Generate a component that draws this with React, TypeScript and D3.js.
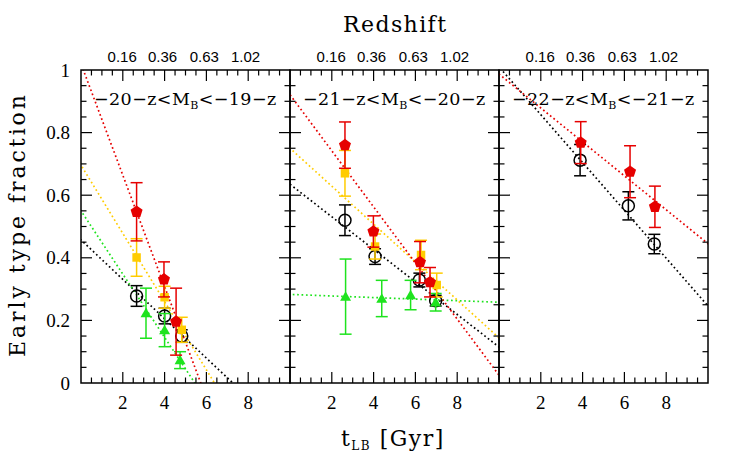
import React, { useEffect, useRef } from 'react';
import * as d3 from 'd3';

// redshift labels on the top axis and the lookback time they sit at
const zTickLabels = ['0.16', '0.36', '0.63', '1.02'];
const zTickT = [1.97, 3.9, 5.9, 7.87];
const tTickLabels = [2, 4, 6, 8];

const panelLabels = [
  ['−20−z<M', 'B', '<−19−z'],
  ['−21−z<M', 'B', '<−20−z'],
  ['−22−z<M', 'B', '<−21−z'],
];

// points are [t_LB (Gyr), early type fraction, error]
const p1All = [[2.66, 0.278, 0.033], [4.0, 0.214, 0.025], [4.82, 0.15, 0.02]];
const p1Green = [[3.11, 0.223, 0.08], [4.0, 0.169, 0.053], [4.74, 0.073, 0.027]];
const p1Yellow = [[2.66, 0.401, 0.06], [4.0, 0.274, 0.035], [4.82, 0.17, 0.04]];
const p1Red = [[2.66, 0.547, 0.093], [3.97, 0.331, 0.056], [4.55, 0.196, 0.107]];

const p2All = [[2.63, 0.52, 0.049], [4.07, 0.404, 0.025], [6.19, 0.329, 0.022], [6.97, 0.263, 0.017]];
const p2Green = [[2.66, 0.276, 0.12], [4.39, 0.27, 0.058], [5.77, 0.281, 0.047], [6.97, 0.258, 0.028]];
const p2Yellow = [[2.63, 0.67, 0.073], [4.07, 0.436, 0.04], [6.27, 0.409, 0.047], [7.02, 0.313, 0.038]];
const p2Red = [[2.63, 0.76, 0.074], [3.99, 0.484, 0.05], [6.22, 0.386, 0.066], [6.7, 0.322, 0.047]];

const p3All = [[3.88, 0.712, 0.05], [6.19, 0.566, 0.045], [7.43, 0.444, 0.031]];
const p3Red = [[3.91, 0.768, 0.067], [6.27, 0.675, 0.083], [7.46, 0.563, 0.066]];

// linear fits, [intercept, slope]
const p1Fits = { all: [0.457, -0.0629], green: [0.55, -0.101], yellow: [0.696, -0.109], red: [1.02, -0.178] };
const p2Fits = { all: [0.635, -0.052], green: [0.283, -0.0025], yellow: [0.75, -0.0606], red: [0.921, -0.0896] };
const p3Fits = { all: [1.01, -0.0764], red: [0.987, -0.0542] };

const colors = { all: '#000000', green: '#1ee31e', yellow: '#ffcc00', red: '#e60000' };

const panels = [
  { series: { all: p1All, green: p1Green, yellow: p1Yellow, red: p1Red }, fits: p1Fits },
  { series: { all: p2All, green: p2Green, yellow: p2Yellow, red: p2Red }, fits: p2Fits },
  { series: { all: p3All, red: p3Red }, fits: p3Fits },
];

const pentagon = {
  draw(ctx, size) {
    const r = Math.sqrt(size / 2.378);
    for (let i = 0; i < 5; i++) {
      const a = -Math.PI / 2 + (i * 2 * Math.PI) / 5;
      if (i === 0) ctx.moveTo(r * Math.cos(a), r * Math.sin(a));
      else ctx.lineTo(r * Math.cos(a), r * Math.sin(a));
    }
    ctx.closePath();
  },
};

const App = () => {
  const svgRef = useRef(null);

  useEffect(() => {
    const W = 747, H = 464;
    const left = 81, top = 70, panelW = 209, bottom = 383;
    const serif = '"DejaVu Serif", serif';

    d3.select(svgRef.current).selectAll('*').remove();
    const svg = d3.select(svgRef.current).attr('width', W).attr('height', H);

    const y = d3.scaleLinear().domain([0, 1]).range([bottom, top]);

    panels.forEach((panel, pi) => {
      const x0 = left + pi * panelW;
      const x = d3.scaleLinear().domain([0, 10]).range([x0, x0 + panelW]);
      const g = svg.append('g');

      svg.append('clipPath').attr('id', `clip-${pi}`)
        .append('rect').attr('x', x0).attr('y', top).attr('width', panelW).attr('height', bottom - top);

      // dotted fits
      const lines = g.append('g').attr('clip-path', `url(#clip-${pi})`);
      Object.entries(panel.fits).forEach(([key, [a, b]]) => {
        const line = d3.line().x(d => x(d)).y(d => y(a + b * d));
        lines.append('path')
          .attr('d', line([-0.5, 10.5]))
          .attr('fill', 'none')
          .attr('stroke', colors[key])
          .attr('stroke-width', 1.7)
          .attr('stroke-dasharray', '1.7 2.7');
      });

      // points with error bars
      const order = ['all', 'green', 'yellow', 'red'];
      order.forEach(key => {
        const pts = panel.series[key];
        if (!pts) return;
        const c = colors[key];
        const sg = g.append('g');
        pts.forEach(([t, f, e]) => {
          const cx = x(t);
          sg.append('line').attr('x1', cx).attr('x2', cx).attr('y1', y(f - e)).attr('y2', y(f + e))
            .attr('stroke', c).attr('stroke-width', 1.5);
          [f - e, f + e].forEach(v => {
            sg.append('line').attr('x1', cx - 6).attr('x2', cx + 6).attr('y1', y(v)).attr('y2', y(v))
              .attr('stroke', c).attr('stroke-width', 1.5);
          });
          if (key === 'all') {
            sg.append('circle').attr('cx', cx).attr('cy', y(f)).attr('r', 6)
              .attr('fill', 'none').attr('stroke', c).attr('stroke-width', 1.5);
          } else {
            const type = key === 'red' ? pentagon : key === 'yellow' ? d3.symbolSquare : d3.symbolTriangle;
            const size = key === 'red' ? 95 : key === 'yellow' ? 72 : 52;
            sg.append('path')
              .attr('d', d3.symbol().type(type).size(size)())
              .attr('transform', `translate(${cx},${y(f) + (key === 'green' ? 1 : 0)})`)
              .attr('fill', c);
          }
        });
      });

      // frame and ticks
      const axis = svg.append('g').attr('stroke', '#000').attr('stroke-width', 1.2);
      d3.range(0.5, 10, 0.5).forEach(t => {
        const len = t % 2 === 0 ? 11 : 5.5;
        axis.append('line').attr('x1', x(t)).attr('x2', x(t)).attr('y1', bottom).attr('y2', bottom - len);
        axis.append('line').attr('x1', x(t)).attr('x2', x(t)).attr('y1', top).attr('y2', top + len);
      });
      d3.range(1, 20).forEach(i => {
        const v = i * 0.05;
        const len = i % 4 === 0 ? 11 : 5.5;
        axis.append('line').attr('x1', x0).attr('x2', x0 + len).attr('y1', y(v)).attr('y2', y(v));
        axis.append('line').attr('x1', x0 + panelW).attr('x2', x0 + panelW - len).attr('y1', y(v)).attr('y2', y(v));
      });
      svg.append('rect').attr('x', x0).attr('y', top).attr('width', panelW).attr('height', bottom - top)
        .attr('fill', 'none').attr('stroke', '#000').attr('stroke-width', 1.5);

      // bottom tick labels
      tTickLabels.forEach(t => {
        svg.append('text').attr('x', x(t)).attr('y', 409).attr('text-anchor', 'middle')
          .attr('font-family', '"Liberation Serif", serif').attr('font-size', 19).text(t);
      });

      // redshift labels
      zTickLabels.forEach((lab, i) => {
        svg.append('text').attr('x', x(zTickT[i])).attr('y', 62).attr('text-anchor', 'middle')
          .attr('font-family', '"Liberation Sans", sans-serif').attr('font-size', 15).text(lab);
      });

      // panel label
      const [a, sub, b] = panelLabels[pi];
      const lab = svg.append('text').attr('x', x0 + 13).attr('y', 105)
        .attr('font-family', serif).attr('font-size', 17.5).attr('letter-spacing', 0.4);
      lab.append('tspan').text(a);
      lab.append('tspan').attr('font-size', 11).attr('dy', 4).text(sub);
      lab.append('tspan').attr('dy', -4).text(b);
    });

    // y tick labels
    y.ticks(5).forEach(v => {
      svg.append('text').attr('x', 70).attr('y', y(v) + 6.5).attr('text-anchor', 'end')
        .attr('font-family', '"Liberation Serif", serif').attr('font-size', 19)
        .text(v === 0 ? '0' : v === 1 ? '1' : d3.format('.1f')(v));
    });

    // titles
    svg.append('text').attr('x', 394.5).attr('y', 32).attr('text-anchor', 'middle')
      .attr('font-family', serif).attr('font-size', 22)
      .attr('textLength', 103).attr('lengthAdjust', 'spacing').text('Redshift');

    svg.append('text').attr('transform', 'translate(25,226) rotate(-90)').attr('text-anchor', 'middle')
      .attr('font-family', serif).attr('font-size', 22)
      .attr('textLength', 262).attr('lengthAdjust', 'spacing').text('Early type fraction');

    const xt = svg.append('text').attr('x', 341).attr('y', 446)
      .attr('font-family', serif).attr('font-size', 22).attr('letter-spacing', 1.5);
    xt.append('tspan').text('t');
    xt.append('tspan').attr('font-size', 12).attr('dy', 4).text('LB');
    xt.append('tspan').attr('dy', -4).text(' [Gyr]');
  }, []);

  return (
    <svg ref={svgRef} style={{ position: 'absolute', left: 0, top: 0, background: '#fff' }}></svg>
  );
};

export default App;
